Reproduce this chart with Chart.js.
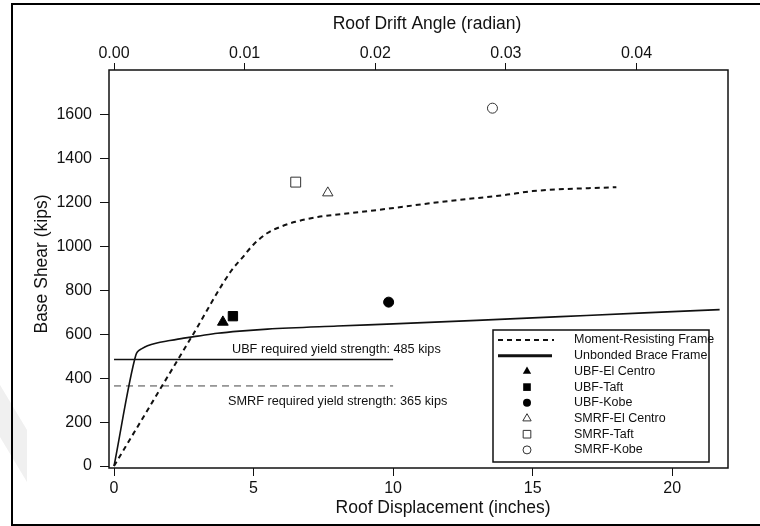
<!DOCTYPE html>
<html>
<head>
<meta charset="utf-8">
<script src="https://cdn.jsdelivr.net/npm/chart.js@4.4.0/dist/chart.umd.min.js"></script>
<style>
  html, body { margin: 0; padding: 0; background: #fff; }
  #wrap { width: 760px; height: 526px; position: relative; }
</style>
</head>
<body>
<div id="wrap"><canvas id="c" width="760" height="526"></canvas></div>
<script>
// Pushover curve of the special moment-resisting frame (inches, kips)
const mrfDisp  = [0, 1.4, 2.8, 4.2, 4.6, 5.0, 5.5, 6.0, 6.5, 7.3, 8.5, 9.5, 12.0, 14.0, 15.0, 18.0];
const mrfShear = [0, 297, 593, 890, 950, 1010, 1062, 1092, 1113, 1135, 1153, 1168, 1208, 1235, 1253, 1271];

// Pushover curve of the unbonded brace frame (inches, kips)
const ubfDisp  = [0, 0.78, 0.85, 1.0, 1.2, 1.5, 2.0, 2.5, 3.0, 3.7, 4.5, 5.5, 8.0, 10.0, 13.0, 16.0, 19.0, 21.7];
const ubfShear = [0, 505, 522, 535, 548, 560, 572, 583, 592, 605, 615, 624, 638, 648, 664, 681, 698, 713];

// Peak responses from the time-history runs
const eqLabels = ['UBF-El Centro', 'UBF-Taft', 'UBF-Kobe', 'SMRF-El Centro', 'SMRF-Taft', 'SMRF-Kobe'];
const eqDisp   = [3.9, 4.26, 9.84, 7.66, 6.51, 13.56];
const eqShear  = [656, 683, 747, 1245, 1294, 1631];

// Required yield strengths (kips) and the displacement span of their reference lines
const ubfRequired  = 485;
const smrfRequired = 365;
const requiredSpan = [0, 10];

// Roof height in inches: drift angle = displacement / roofHeight
const roofHeight = 468;

// Tick values
const dispTicks  = [0, 5, 10, 15, 20];
const driftTicks = [0, 0.01, 0.02, 0.03, 0.04];
const shearTicks = [0, 200, 400, 600, 800, 1000, 1200, 1400, 1600];

const FONT = '"Liberation Sans", Arial, Helvetica, sans-serif';
const INK = '#111';

const xy = (xs, ys) => xs.map((x, i) => ({ x: x, y: ys[i] }));

// marker looks for the six earthquake records
const markerStyles = [
  { pointStyle: 'triangle', filled: true,  radius: 6.2 },
  { pointStyle: 'rect',     filled: true,  radius: 6.6 },
  { pointStyle: 'circle',   filled: true,  radius: 5.0 },
  { pointStyle: 'triangle', filled: false, radius: 6.0 },
  { pointStyle: 'rect',     filled: false, radius: 7.0 },
  { pointStyle: 'circle',   filled: false, radius: 5.0 }
];

const pointSets = eqLabels.map((label, i) => {
  const m = markerStyles[i];
  return {
    label: label,
    data: [{ x: eqDisp[i], y: eqShear[i] }],
    showLine: false,
    pointStyle: m.pointStyle,
    pointRadius: m.radius,
    pointHoverRadius: m.radius,
    pointBackgroundColor: m.filled ? '#000' : 'rgba(0,0,0,0)',
    pointBorderColor: m.filled ? '#000' : '#333',
    pointBorderWidth: 1,
    legendKind: 'marker',
    legendFilled: m.filled
  };
});

const datasets = [
  {
    label: 'Moment-Resisting Frame',
    data: xy(mrfDisp, mrfShear),
    showLine: true,
    cubicInterpolationMode: 'monotone',
    borderColor: '#111',
    borderWidth: 2,
    borderDash: [5, 4],
    pointRadius: 0,
    legendKind: 'dash'
  },
  {
    label: 'Unbonded Brace Frame',
    data: xy(ubfDisp, ubfShear),
    showLine: true,
    cubicInterpolationMode: 'monotone',
    borderColor: '#111',
    borderWidth: 1.6,
    pointRadius: 0,
    legendKind: 'solid'
  },
  ...pointSets,
  {
    label: 'UBF required yield strength',
    data: xy(requiredSpan, [ubfRequired, ubfRequired]),
    showLine: true,
    borderColor: '#111',
    borderWidth: 1.5,
    pointRadius: 0,
    legendKind: null
  },
  {
    label: 'SMRF required yield strength',
    data: xy(requiredSpan, [smrfRequired, smrfRequired]),
    showLine: true,
    borderColor: '#444',
    borderWidth: 1,
    borderDash: [7, 5],
    pointRadius: 0,
    legendKind: null
  }
];

// draws a legend glyph matching the plotted markers
function drawGlyph(ctx, style, filled, x, y, r) {
  ctx.save();
  ctx.beginPath();
  if (style === 'triangle') {
    ctx.moveTo(x, y - r);
    ctx.lineTo(x + r * 0.866, y + r * 0.5);
    ctx.lineTo(x - r * 0.866, y + r * 0.5);
    ctx.closePath();
  } else if (style === 'rect') {
    const s = r * 0.707;
    ctx.rect(x - s, y - s, 2 * s, 2 * s);
  } else {
    ctx.arc(x, y, r, 0, Math.PI * 2);
  }
  if (filled) { ctx.fillStyle = '#000'; ctx.fill(); }
  else { ctx.strokeStyle = '#333'; ctx.lineWidth = 1; ctx.stroke(); }
  ctx.restore();
}

const decorations = {
  id: 'decorations',
  beforeDraw(chart) {
    const ctx = chart.ctx;
    ctx.save();
    // faint watermark band in the left margin
    ctx.fillStyle = '#f0f0f0';
    ctx.beginPath();
    ctx.moveTo(0, 385);
    ctx.lineTo(27, 430);
    ctx.lineTo(27, 482);
    ctx.lineTo(0, 437);
    ctx.closePath();
    ctx.fill();
    ctx.restore();
  },
  afterDraw(chart) {
    const ctx = chart.ctx;
    const a = chart.chartArea;
    ctx.save();

    // plot box
    ctx.strokeStyle = '#111';
    ctx.lineWidth = 1.5;
    ctx.strokeRect(a.left, a.top, a.right - a.left, a.bottom - a.top);

    // outer frame
    ctx.strokeStyle = '#000';
    ctx.lineWidth = 2;
    ctx.beginPath();
    ctx.moveTo(762, 4);
    ctx.lineTo(12, 4);
    ctx.lineTo(12, 525);
    ctx.lineTo(762, 525);
    ctx.stroke();

    // axis titles
    ctx.fillStyle = INK;
    ctx.font = '17.5px ' + FONT;
    ctx.textAlign = 'center';
    ctx.textBaseline = 'middle';
    ctx.fillText('Roof Drift Angle (radian)', 427, 24);
    ctx.fillText('Roof Displacement (inches)', 443, 508);
    ctx.save();
    ctx.translate(42, 264);
    ctx.rotate(-Math.PI / 2);
    ctx.fillText('Base Shear (kips)', 0, 0);
    ctx.restore();

    // required-strength notes
    ctx.font = '12.7px ' + FONT;
    ctx.textAlign = 'left';
    ctx.textBaseline = 'alphabetic';
    ctx.fillText('UBF required yield strength: ' + ubfRequired + ' kips', 232, 353);
    ctx.fillText('SMRF required yield strength: ' + smrfRequired + ' kips', 228, 405);

    // legend
    const box = { l: 493, t: 330, r: 709, b: 462 };
    ctx.fillStyle = '#fff';
    ctx.fillRect(box.l, box.t, box.r - box.l, box.b - box.t);
    ctx.strokeStyle = '#111';
    ctx.lineWidth = 1.5;
    ctx.strokeRect(box.l, box.t, box.r - box.l, box.b - box.t);

    const items = chart.data.datasets.filter(d => d.legendKind);
    ctx.font = '12.5px ' + FONT;
    ctx.textBaseline = 'middle';
    items.forEach((d, i) => {
      const y = 340 + i * 15.7;
      if (d.legendKind === 'dash') {
        ctx.save();
        ctx.strokeStyle = '#111';
        ctx.lineWidth = 2;
        ctx.setLineDash([5, 4]);
        ctx.beginPath();
        ctx.moveTo(498, y); ctx.lineTo(554, y);
        ctx.stroke();
        ctx.restore();
      } else if (d.legendKind === 'solid') {
        ctx.save();
        ctx.strokeStyle = '#111';
        ctx.lineWidth = 3;
        ctx.beginPath();
        ctx.moveTo(498, y); ctx.lineTo(552, y);
        ctx.stroke();
        ctx.restore();
      } else {
        const r = d.pointStyle === 'triangle' ? 4.8 : d.pointStyle === 'rect' ? 5.4 : 4.0;
        drawGlyph(ctx, d.pointStyle, d.legendFilled, 527, y, r);
      }
      ctx.fillStyle = INK;
      ctx.fillText(d.label, 574, y);
    });
    ctx.restore();
  }
};

const tickFont = { family: FONT, size: 16 };
const setTicks = values => scale => { scale.ticks = values.map(v => ({ value: v })); };

new Chart(document.getElementById('c'), {
  type: 'scatter',
  data: { datasets: datasets },
  options: {
    responsive: false,
    animation: false,
    devicePixelRatio: 1,
    layout: { padding: { left: 0, top: 0, right: 32, bottom: 0 } },
    plugins: { legend: { display: false }, tooltip: { enabled: false } },
    scales: {
      x: {
        type: 'linear',
        position: 'bottom',
        min: -0.18,
        max: 22,
        afterBuildTicks: setTicks(dispTicks),
        afterFit: s => { s.height = 58; },
        ticks: { font: tickFont, color: INK, padding: 3, maxRotation: 0, callback: v => String(v) },
        grid: { drawOnChartArea: false, tickLength: 8, tickColor: '#111', tickWidth: 1 },
        border: { display: false }
      },
      x2: {
        type: 'linear',
        position: 'top',
        min: -0.18 / roofHeight,
        max: 22 / roofHeight,
        afterBuildTicks: setTicks(driftTicks),
        afterFit: s => { s.height = 70; },
        ticks: { font: tickFont, color: INK, padding: 0, maxRotation: 0, callback: v => v.toFixed(2) },
        grid: { drawOnChartArea: false, tickLength: 7, tickColor: '#111', tickWidth: 1 },
        border: { display: false }
      },
      y: {
        type: 'linear',
        position: 'left',
        min: -9,
        max: 1805,
        afterBuildTicks: setTicks(shearTicks),
        afterFit: s => { s.width = 109; },
        ticks: { font: tickFont, color: INK, padding: 8, callback: v => String(v) },
        grid: { drawOnChartArea: false, tickLength: 9, tickColor: '#111', tickWidth: 1 },
        border: { display: false }
      }
    }
  },
  plugins: [decorations]
});
</script>
</body>
</html>
